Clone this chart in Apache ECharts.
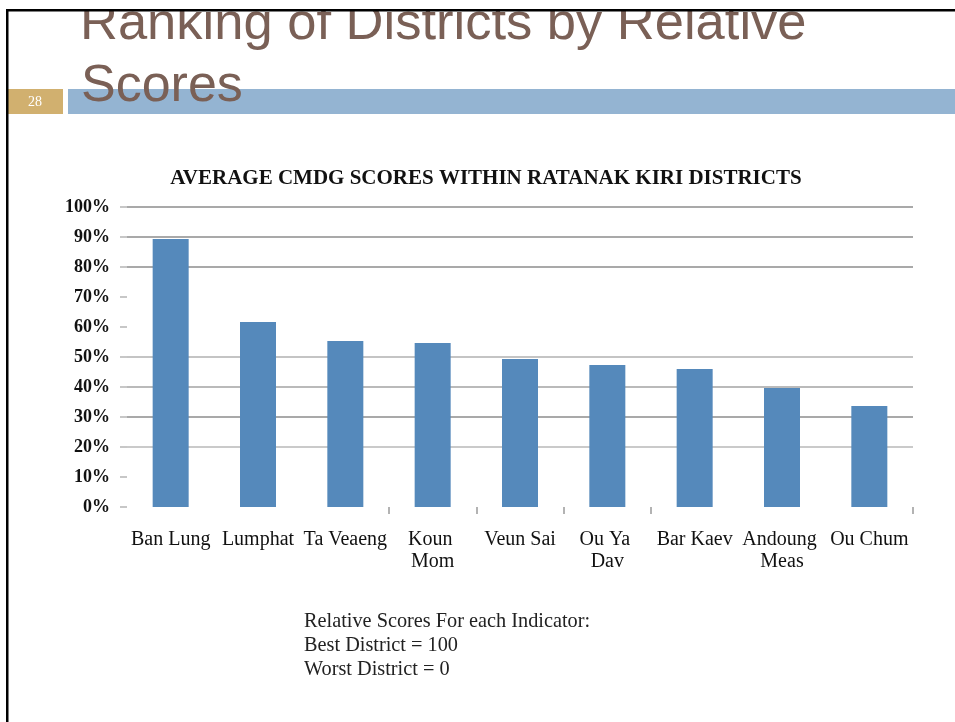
<!DOCTYPE html>
<html>
<head>
<meta charset="utf-8">
<script src="https://cdn.jsdelivr.net/npm/echarts@6/dist/echarts.min.js"></script>
<style>
html,body{margin:0;padding:0;background:#fff;}
#c{width:955px;height:722px;}
</style>
</head>
<body>
<div id="c"></div>
<script>
const slideTitleLines = ['Ranking of Districts by Relative', 'Scores'];
const slideNumber = '28';
const chartTitle = 'AVERAGE CMDG SCORES WITHIN RATANAK KIRI DISTRICTS';
const districts = ['Ban Lung', 'Lumphat', 'Ta Veaeng', 'Koun Mom', 'Veun Sai', 'Ou Ya Dav', 'Bar Kaev', 'Andoung Meas', 'Ou Chum'];
const scores = [89.3, 61.7, 55.3, 54.7, 49.3, 47.3, 46.0, 39.7, 33.7];
const yTicks = [0, 10, 20, 30, 40, 50, 60, 70, 80, 90, 100];
const noteLines = ['Relative Scores For each Indicator:', 'Best District = 100', 'Worst District = 0'];

const gridColors = {0:'transparent',10:'transparent',20:'#b8b8b8',30:'#8c8c8c',40:'#a3a3a3',50:'#b0b0b0',60:'transparent',70:'transparent',80:'#8c8c8c',90:'#8c8c8c',100:'#8c8c8c'};

const chart = echarts.init(document.getElementById('c'), null, {renderer:'canvas'});
const serif = '"Liberation Serif", "DejaVu Serif", serif';

chart.setOption({
  animation: false,
  backgroundColor: '#ffffff',
  title: {
    text: chartTitle,
    left: 481, top: 163, textAlign: 'center',
    textStyle: {fontFamily: serif, fontWeight: 'bold', fontSize: 21, color: '#111'}
  },
  grid: {left: 127, right: 42, top: 207, bottom: 215, containLabel: false},
  xAxis: {
    type: 'category',
    data: districts,
    axisLine: {show: false},
    axisTick: {show: true, length: 7, interval: function(i){ return i >= 3 && i <= 6; }, lineStyle: {color: '#9a9a9a', width: 1.5}},
    axisLabel: {interval: 0, margin: 22, fontFamily: serif, fontSize: 20, color: '#111', lineHeight: 22, width: 90, overflow: 'break'}
  },
  yAxis: {
    type: 'value',
    min: 0, max: 100, interval: 10,
    axisLine: {show: false},
    axisTick: {show: true, length: 7, lineStyle: {color: '#b5b5b5', width: 1.5}},
    axisLabel: {margin: 17, fontFamily: serif, fontWeight: 'bold', fontSize: 18, color: '#111', formatter: '{value}%'},
    splitLine: {show: true, lineStyle: {width: 1.6, color: yTicks.map(v => gridColors[v])}}
  },
  series: [{
    type: 'bar',
    data: scores,
    barWidth: 36,
    itemStyle: {color: '#5589bb'}
  }],
  graphic: [
    {type: 'text', left: 80, top: -2, z: 10, style: {text: slideTitleLines[0], font: '52.5px "Liberation Sans", Arial, sans-serif', fill: '#7a6056'}},
    {type: 'rect', shape: {x: 68, y: 89, width: 900, height: 25}, z: 5, style: {fill: '#94b4d2'}},
    {type: 'rect', shape: {x: 7, y: 89, width: 56, height: 25}, z: 5, style: {fill: '#d1b06f'}},
    {type: 'text', x: 35, y: 102, z: 11, style: {text: slideNumber, font: '14px "Liberation Serif", serif', fill: '#ffffff', align: 'center', verticalAlign: 'middle'}},
    {type: 'text', left: 81, top: 61, z: 10, style: {text: slideTitleLines[1], font: '52px "Liberation Sans", Arial, sans-serif', fill: '#7a6056'}},
    {type: 'rect', shape: {x: 0, y: 0, width: 955, height: 10}, z: 20, style: {fill: '#ffffff'}},
    {type: 'rect', shape: {x: 6, y: 9, width: 949, height: 2.5}, z: 21, style: {fill: '#000000'}},
    {type: 'rect', shape: {x: 6, y: 9, width: 2.5, height: 713}, z: 21, style: {fill: '#000000'}},
    {type: 'text', left: 304, top: 610, z: 10, style: {text: noteLines.join('\n'), font: '20.3px "Liberation Serif", serif', lineHeight: 24, fill: '#222'}}
  ]
});
</script>
</body>
</html>
